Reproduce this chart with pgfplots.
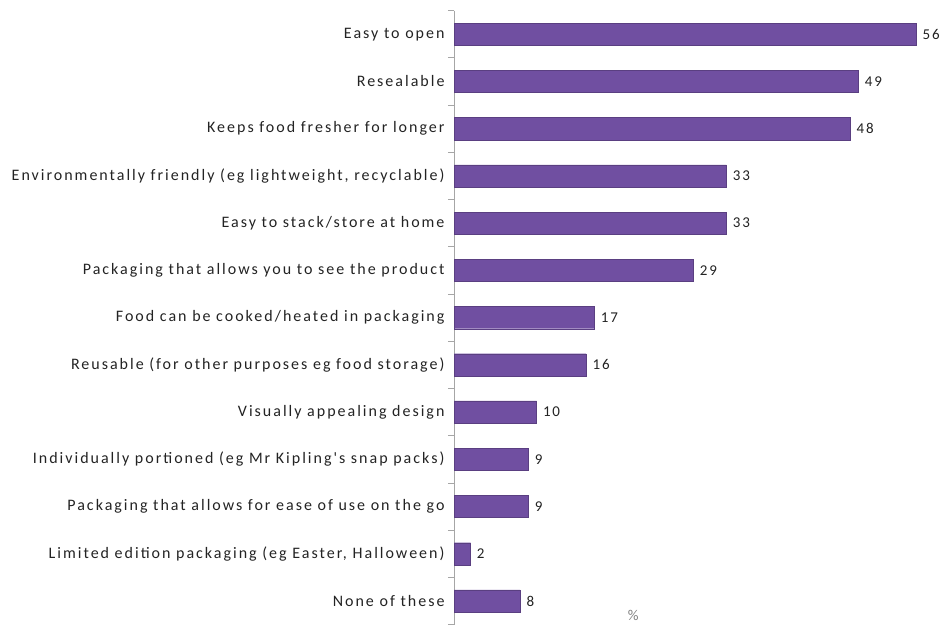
\documentclass[border=0pt]{standalone}
\usepackage{pgfplots}
\pgfplotsset{compat=1.18}
\usepackage{fontspec}
\setmainfont{Carlito}
\newfontfamily\lblfont[LetterSpace=12.5]{Carlito}
\definecolor{barpurple}{RGB}{112,79,161}
\definecolor{txt}{RGB}{35,35,35}
\begin{document}
\begin{tikzpicture}
\useasboundingbox (0,0) rectangle (943bp,625bp);
\begin{axis}[
  at={(454bp,0.4bp)}, anchor=south west,
  scale only axis, width=487bp, height=614bp,
  xbar, bar width=0.47,
  xmin=0, xmax=59,
  ymin=-0.5, ymax=12.5, y dir=reverse,
  axis x line=none, axis y line*=left,
  axis line style={gray!70, line width=0.8pt},
  ytick={0,...,12},
  yticklabels={Easy to open, Resealable, Keeps food fresher for longer,
    {Environmentally friendly (eg lightweight, recyclable)},
    Easy to stack/store at home, Packaging that allows you to see the product,
    Food can be cooked/heated in packaging,
    Reusable (for other purposes eg food storage), Visually appealing design,
    Individually portioned (eg Mr Kipling's snap packs),
    Packaging that allows for ease of use on the go,
    {Limited edition packaging (eg Easter, Halloween)}, None of these},
  major tick length=0pt,
  minor ytick={-0.5,0.5,...,12.5},
  minor tick length=6bp,
  minor tick style={gray!70, line width=0.8pt},
  tick align=outside,
  yticklabel style={font=\lblfont\fontsize{16bp}{18bp}\selectfont, text=txt, xshift=-6bp},
  nodes near coords,
  nodes near coords style={font=\lblfont\fontsize{15bp}{17bp}\selectfont, text=txt, xshift=3bp},
  /pgf/number format/assume math mode=true,
  clip=false,
]
\addplot[fill=barpurple, draw=barpurple!80!black, line width=0.3pt] coordinates {
(56,0) (49,1) (48,2) (33,3) (33,4) (29,5) (17,6) (16,7) (10,8) (9,9) (9,10) (2,11) (8,12)};
\node[font=\fontsize{15bp}{17bp}\selectfont, text=gray] at (axis cs:21.7,12.3) {\%};
\end{axis}
\end{tikzpicture}
\end{document}
